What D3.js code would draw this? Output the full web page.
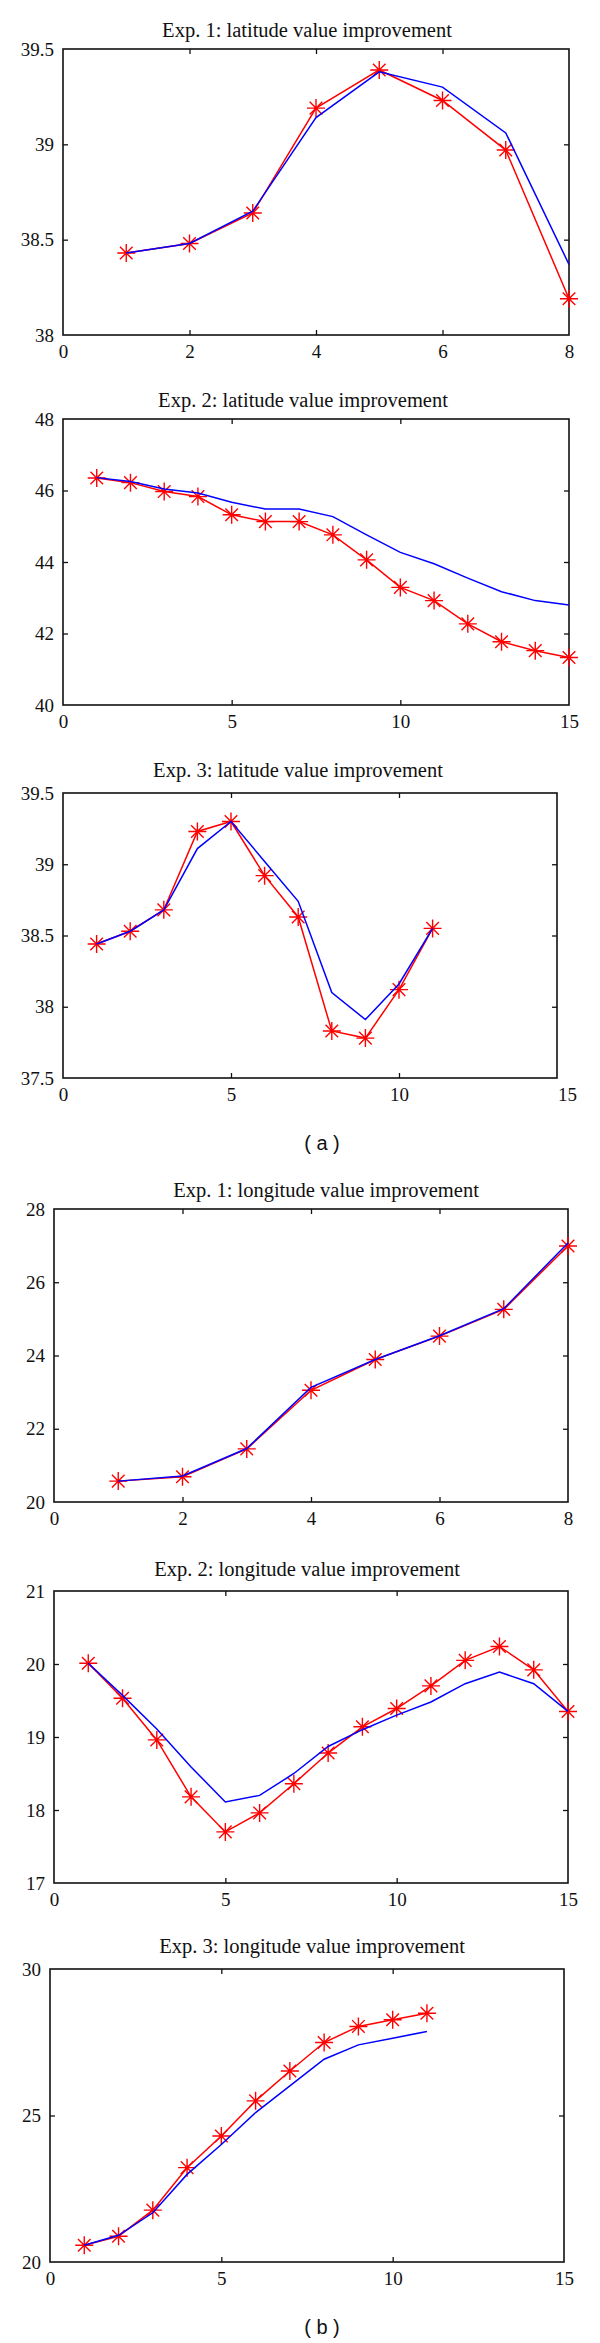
<!DOCTYPE html>
<html>
<head>
<meta charset="utf-8">
<script src="https://cdn.jsdelivr.net/npm/d3@7/dist/d3.min.js"></script>
<style>
  html, body { margin: 0; padding: 0; background: #fff; }
  svg { display: block; }
</style>
</head>
<body>
<svg id="chart" width="600" height="2343"></svg>
<script>
// ---------------- data ----------------
const titles = [
  "Exp. 1: latitude value improvement",
  "Exp. 2: latitude value improvement",
  "Exp. 3: latitude value improvement",
  "Exp. 1: longitude value improvement",
  "Exp. 2: longitude value improvement",
  "Exp. 3: longitude value improvement"
];
const groupLabels = ["( a )", "( b )"];

const x8  = [1, 2, 3, 4, 5, 6, 7, 8];
const x11 = [1, 2, 3, 4, 5, 6, 7, 8, 9, 10, 11];
const x15 = [1, 2, 3, 4, 5, 6, 7, 8, 9, 10, 11, 12, 13, 14, 15];

const lat1Red  = [38.43, 38.48, 38.64, 39.19, 39.39, 39.23, 38.97, 38.19];
const lat1Blue = [38.43, 38.48, 38.65, 39.14, 39.38, 39.30, 39.06, 38.37];

const lat2Red  = [46.35, 46.22, 45.97, 45.83, 45.32, 45.13, 45.13, 44.76, 44.06, 43.29, 42.92, 42.27, 41.77, 41.52, 41.33];
const lat2Blue = [46.36, 46.25, 46.04, 45.93, 45.67, 45.48, 45.48, 45.27, 44.76, 44.27, 43.95, 43.55, 43.17, 42.92, 42.80];

const lat3Red  = [38.44, 38.53, 38.68, 39.23, 39.30, 38.92, 38.63, 37.83, 37.78, 38.12, 38.55];
const lat3Blue = [38.44, 38.53, 38.68, 39.11, 39.30, 39.02, 38.74, 38.10, 37.91, 38.16, 38.55];

const lon1Red  = [20.57, 20.69, 21.45, 23.05, 23.89, 24.53, 25.26, 26.99];
const lon1Blue = [20.57, 20.71, 21.46, 23.13, 23.89, 24.54, 25.28, 27.07];

const lon2Red  = [20.01, 19.53, 18.96, 18.18, 17.70, 17.96, 18.36, 18.78, 19.14, 19.39, 19.70, 20.05, 20.24, 19.92, 19.35];
const lon2Blue = [20.01, 19.57, 19.11, 18.59, 18.11, 18.20, 18.50, 18.87, 19.10, 19.30, 19.48, 19.73, 19.89, 19.73, 19.35];

const lon3Red  = [20.57, 20.88, 21.77, 23.22, 24.30, 25.50, 26.52, 27.49, 28.04, 28.27, 28.49];
const lon3Blue = [20.57, 20.91, 21.68, 22.99, 24.01, 25.10, 26.01, 26.92, 27.41, 27.64, 27.87];

const xTicks8  = [0, 2, 4, 6, 8];
const xTicks15 = [0, 5, 10, 15];
const yTicksLat1 = [38, 38.5, 39, 39.5];
const yTicksLat2 = [40, 42, 44, 46, 48];
const yTicksLat3 = [37.5, 38, 38.5, 39, 39.5];
const yTicksLon1 = [20, 22, 24, 26, 28];
const yTicksLon2 = [17, 18, 19, 20, 21];
const yTicksLon3 = [20, 25, 30];

// ---------------- layout ----------------
const panels = [
  { title: titles[0], xs: x8,  red: lat1Red, blue: lat1Blue, xd: [0, 8],  xt: xTicks8,  yt: yTicksLat1, L: 63, R: 569, FR: 569, T: 49,   B: 335,  tx: 307, ty: 30 },
  { title: titles[1], xs: x15, red: lat2Red, blue: lat2Blue, xd: [0, 15], xt: xTicks15, yt: yTicksLat2, L: 63, R: 569, FR: 569, T: 419,  B: 705,  tx: 303, ty: 400 },
  { title: titles[2], xs: x11, red: lat3Red, blue: lat3Blue, xd: [0, 15], xt: xTicks15, yt: yTicksLat3, L: 63, R: 567, FR: 557, T: 793,  B: 1078, tx: 298, ty: 770 },
  { title: titles[3], xs: x8,  red: lon1Red, blue: lon1Blue, xd: [0, 8],  xt: xTicks8,  yt: yTicksLon1, L: 54, R: 568, FR: 568, T: 1209, B: 1502, tx: 326, ty: 1190 },
  { title: titles[4], xs: x15, red: lon2Red, blue: lon2Blue, xd: [0, 15], xt: xTicks15, yt: yTicksLon2, L: 54, R: 568, FR: 568, T: 1591, B: 1883, tx: 307, ty: 1569 },
  { title: titles[5], xs: x11, red: lon3Red, blue: lon3Blue, xd: [0, 15], xt: xTicks15, yt: yTicksLon3, L: 50, R: 564, FR: 564, T: 1969, B: 2262, tx: 312, ty: 1946 }
];
const groupPos = [{ x: 322, y: 1143 }, { x: 322, y: 2327 }];

const svg = d3.select("#chart");
svg.append("rect").attr("width", 600).attr("height", 2343).attr("fill", "#fff");

const serif = "'Liberation Serif', 'Times New Roman', serif";
const TICK = 5;
const starPath = "M-9,0L9,0M0,-9L0,9M-6.3,-6.3L6.3,6.3M-6.3,6.3L6.3,-6.3";

panels.forEach(p => {
  const x = d3.scaleLinear().domain(p.xd).range([p.L, p.R]);
  const y = d3.scaleLinear().domain([p.yt[0], p.yt[p.yt.length - 1]]).range([p.B, p.T]);
  const g = svg.append("g");

  // title
  g.append("text")
    .attr("x", p.tx).attr("y", p.ty).attr("dy", "0.35em")
    .attr("text-anchor", "middle")
    .style("font-family", serif).style("font-size", "20.5px").attr("fill", "#111")
    .text(p.title);

  // axes (inward ticks)
  const fmt = d => String(d);
  const bottom = g.append("g").attr("transform", `translate(0,${p.B})`)
    .call(d3.axisBottom(x).tickValues(p.xt).tickFormat(fmt).tickSizeInner(-TICK).tickSizeOuter(0).tickPadding(10));
  const left = g.append("g").attr("transform", `translate(${p.L},0)`)
    .call(d3.axisLeft(y).tickValues(p.yt).tickFormat(fmt).tickSizeInner(-TICK).tickSizeOuter(0).tickPadding(9));
  const top = g.append("g").attr("transform", `translate(0,${p.T})`)
    .call(d3.axisTop(x).tickValues(p.xt.filter(v => x(v) > p.L + 1 && x(v) < p.FR - 1)).tickFormat("").tickSizeInner(-TICK).tickSizeOuter(0));
  const right = g.append("g").attr("transform", `translate(${p.FR},0)`)
    .call(d3.axisRight(y).tickValues(p.yt.slice(1, -1)).tickFormat("").tickSizeInner(-TICK).tickSizeOuter(0));

  [bottom, left, top, right].forEach(a => {
    a.select(".domain").remove();
    a.selectAll("line").attr("stroke", "#111").attr("stroke-width", 1.3);
    a.selectAll("text").style("font-family", serif).style("font-size", "19px").attr("fill", "#111");
  });
  bottom.selectAll(".tick").filter(d => d === p.xd[0] || d === p.xd[1]).select("line").remove();
  left.selectAll(".tick").filter((d, i) => i === 0 || i === p.yt.length - 1).select("line").remove();

  // frame
  g.append("rect")
    .attr("x", p.L).attr("y", p.T).attr("width", p.FR - p.L).attr("height", p.B - p.T)
    .attr("fill", "none").attr("stroke", "#111").attr("stroke-width", 1.6);

  const pts = s => p.xs.map((v, i) => [v, s[i]]);
  const line = d3.line().x(d => x(d[0])).y(d => y(d[1]));

  // red estimated line with star markers
  g.append("path").datum(pts(p.red)).attr("d", line)
    .attr("fill", "none").attr("stroke", "#ff0000").attr("stroke-width", 1.5);
  g.selectAll(".star").data(pts(p.red)).enter().append("path")
    .attr("transform", d => `translate(${x(d[0])},${y(d[1])})`)
    .attr("d", starPath).attr("fill", "none").attr("stroke", "#ff0000").attr("stroke-width", 1.4);

  // blue line
  g.append("path").datum(pts(p.blue)).attr("d", line)
    .attr("fill", "none").attr("stroke", "#0000ff").attr("stroke-width", 1.5);
});

groupLabels.forEach((t, i) => {
  svg.append("text")
    .attr("x", groupPos[i].x).attr("y", groupPos[i].y).attr("dy", "0.35em")
    .attr("text-anchor", "middle")
    .style("font-family", "'Liberation Sans', Arial, sans-serif").style("font-size", "20px").attr("fill", "#111")
    .text(t);
});
</script>
</body>
</html>
